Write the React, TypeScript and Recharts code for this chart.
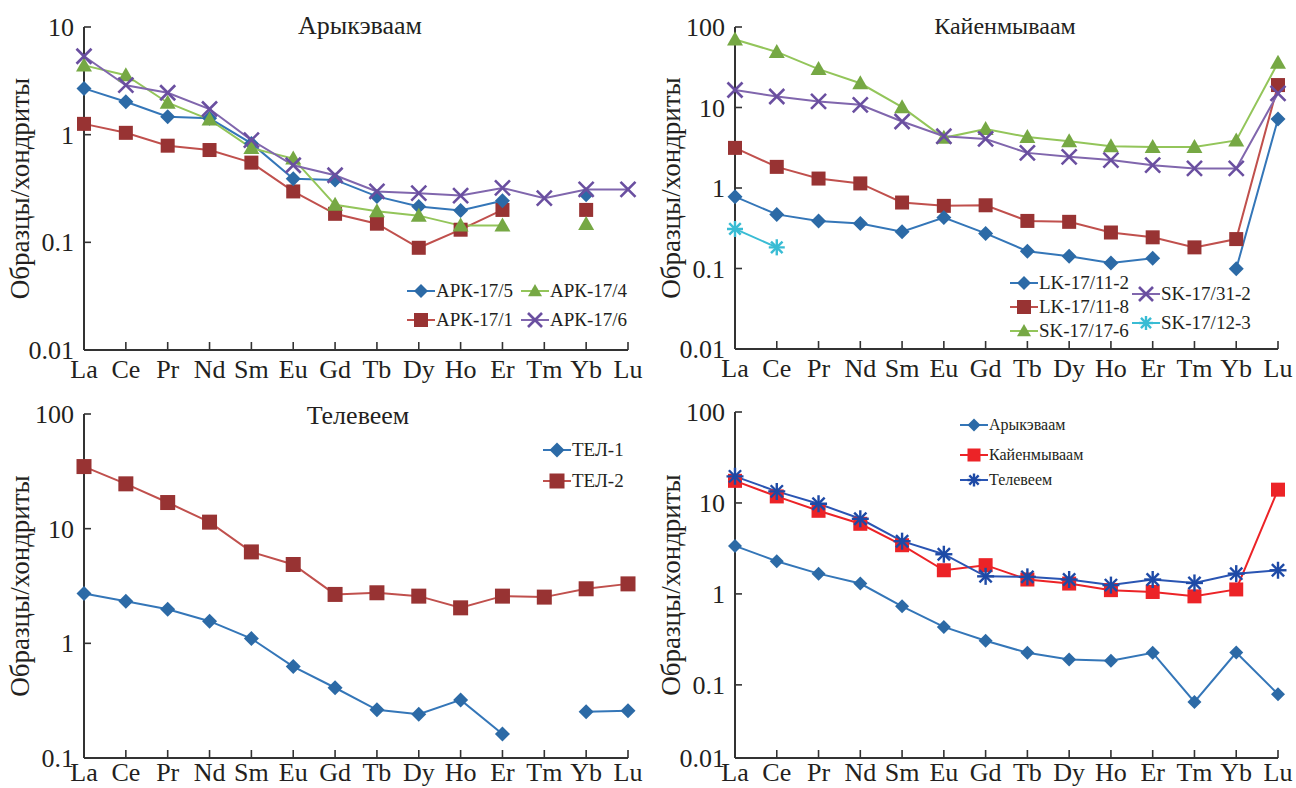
import React from 'react';
import { LineChart, Line, XAxis, YAxis } from 'recharts';

// rare earth elements along the x axis
const elements = ['La', 'Ce', 'Pr', 'Nd', 'Sm', 'Eu', 'Gd', 'Tb', 'Dy', 'Ho', 'Er', 'Tm', 'Yb', 'Lu'];

// Арыкэваам
const apk175 = [2.69, 2.02, 1.47, 1.42, 0.83, 0.39, 0.38, 0.267, 0.215, 0.198, 0.243, null, 0.276, null];
const apk174 = [4.4, 3.57, 1.98, 1.38, 0.75, 0.6, 0.223, 0.194, 0.177, 0.143, 0.143, null, 0.148, null];
const apk171 = [1.26, 1.04, 0.79, 0.72, 0.55, 0.297, 0.184, 0.149, 0.089, 0.131, 0.2, null, 0.2, null];
const apk176 = [5.35, 2.88, 2.45, 1.73, 0.89, 0.52, 0.42, 0.297, 0.286, 0.272, 0.32, 0.257, 0.31, 0.31];

// Кайенмываам
const lk11_2 = [0.78, 0.47, 0.39, 0.363, 0.286, 0.43, 0.273, 0.164, 0.142, 0.117, 0.134, null, 0.099, 7.2];
const lk11_8 = [3.15, 1.83, 1.31, 1.14, 0.66, 0.6, 0.61, 0.39, 0.38, 0.28, 0.244, 0.183, 0.232, 19];
const sk17_6 = [69.8, 49, 30, 20, 10.1, 4.2, 5.4, 4.3, 3.8, 3.3, 3.24, 3.24, 3.9, 36];
const sk31_2 = [16.5, 13.7, 11.9, 10.8, 6.7, 4.39, 4.07, 2.73, 2.44, 2.22, 1.92, 1.75, 1.75, 15];
const sk12_3 = [0.31, 0.183, null, null, null, null, null, null, null, null, null, null, null, null];

// Телевеем
const tel1 = [2.72, 2.33, 1.98, 1.56, 1.1, 0.627, 0.41, 0.263, 0.241, 0.321, 0.162, null, 0.253, 0.258];
const tel2 = [34.8, 24.6, 16.9, 11.4, 6.27, 4.87, 2.67, 2.76, 2.58, 2.04, 2.58, 2.53, 2.99, 3.3];

// averages
const avgArk = [3.37, 2.29, 1.67, 1.3, 0.73, 0.434, 0.305, 0.225, 0.19, 0.184, 0.225, 0.065, 0.227, 0.079];
const avgKay = [17.5, 11.8, 8.2, 5.9, 3.43, 1.82, 2.07, 1.44, 1.3, 1.1, 1.05, 0.94, 1.12, 14];
const avgTel = [19.6, 13.4, 9.8, 6.7, 3.8, 2.73, 1.56, 1.54, 1.44, 1.25, 1.44, 1.32, 1.67, 1.82];

const FONT = 'Liberation Serif';
const AXIS = '#333';

type Shape = 'diamond' | 'square' | 'triangle' | 'x' | 'star';

interface SeriesDef {
  key: string;
  name: string;
  values: (number | null)[];
  color: string;
  line: string;
  shape: Shape;
  size: number;
}

function Marker({ shape, cx, cy, s, color }: { shape: Shape; cx: number; cy: number; s: number; color: string }) {
  if (shape === 'diamond') {
    return <polygon points={`${cx},${cy - s} ${cx + s},${cy} ${cx},${cy + s} ${cx - s},${cy}`} fill={color} />;
  }
  if (shape === 'square') {
    return <rect x={cx - s} y={cy - s} width={2 * s} height={2 * s} fill={color} />;
  }
  if (shape === 'triangle') {
    return <polygon points={`${cx},${cy - s} ${cx + s},${cy + s * 0.75} ${cx - s},${cy + s * 0.75}`} fill={color} />;
  }
  if (shape === 'x') {
    return (
      <g stroke={color} strokeWidth={2.6}>
        <line x1={cx - s} y1={cy - s} x2={cx + s} y2={cy + s} />
        <line x1={cx - s} y1={cy + s} x2={cx + s} y2={cy - s} />
      </g>
    );
  }
  const d = s * 0.72;
  return (
    <g stroke={color} strokeWidth={2.4}>
      <line x1={cx - s} y1={cy} x2={cx + s} y2={cy} />
      <line x1={cx} y1={cy - s} x2={cx} y2={cy + s} />
      <line x1={cx - d} y1={cy - d} x2={cx + d} y2={cy + d} />
      <line x1={cx - d} y1={cy + d} x2={cx + d} y2={cy - d} />
    </g>
  );
}

const makeDot = (sd: SeriesDef) => (props: any) => {
  const { cx, cy, value, index } = props;
  if (value == null || cx == null || cy == null || isNaN(cy)) return <g key={`${sd.key}-${index}`} />;
  return (
    <g key={`${sd.key}-${index}`}>
      <Marker shape={sd.shape} cx={cx} cy={cy} s={sd.size} color={sd.color} />
    </g>
  );
};

const makeXTick = (dy: number) => (props: any) => {
  const { x, y, payload } = props;
  return (
    <g>
      <line x1={x} y1={y} x2={x} y2={y - 8} stroke={AXIS} strokeWidth={1.6} />
      <text x={x} y={y + dy} textAnchor="middle" style={{ fontFamily: FONT }} fontSize={26} fill="#231f20">
        {elements[payload.value]}
      </text>
    </g>
  );
};

const makeYTick = (fmt: (v: number) => string) => (props: any) => {
  const { x, y, payload } = props;
  return (
    <g>
      <line x1={x} y1={y} x2={x + 7} y2={y} stroke={AXIS} strokeWidth={1.6} />
      <text x={x - 10} y={y + 9} textAnchor="end" style={{ fontFamily: FONT }} fontSize={26} fill="#231f20">
        {fmt(payload.value)}
      </text>
    </g>
  );
};

interface LegendEntry {
  sd: SeriesDef;
  x: number;
  y: number;
}

function LegendItem({ e, fontSize, marker }: { e: LegendEntry; fontSize: number; marker: number }) {
  return (
    <div style={{ position: 'absolute', left: e.x, top: e.y - 12, height: 24, display: 'flex', alignItems: 'center' }}>
      <svg width={28} height={24} style={{ overflow: 'visible' }}>
        <line x1={0} y1={12} x2={28} y2={12} stroke={e.sd.line} strokeWidth={2} />
        <Marker shape={e.sd.shape} cx={14} cy={12} s={marker} color={e.sd.color} />
      </svg>
      <span style={{ fontFamily: FONT, fontSize, color: '#231f20', marginLeft: 1, whiteSpace: 'nowrap' }}>{e.sd.name}</span>
    </div>
  );
}

interface PanelProps {
  left: number;
  top: number;
  width: number;
  height: number;
  margin: { top: number; right: number; bottom: number; left: number };
  domain: [number, number];
  ticks: number[];
  fmt: (v: number) => string;
  series: SeriesDef[];
  labelDy: number;
  title?: string;
  titleX?: number;
  titleY?: number;
  titleSize?: number;
  legend: LegendEntry[];
  legendFont: number;
  legendMarker: number;
}

function Panel(p: PanelProps) {
  const data = elements.map((el, i) => {
    const row: Record<string, any> = { i, el };
    p.series.forEach((s) => {
      row[s.key] = s.values[i];
    });
    return row;
  });
  const yTick = makeYTick(p.fmt);
  const xTick = makeXTick(p.labelDy);
  return (
    <div style={{ position: 'absolute', left: p.left, top: p.top, width: p.width, height: p.height }}>
      <LineChart width={p.width} height={p.height} data={data} margin={p.margin}>
        <XAxis
          dataKey="i"
          type="number"
          domain={[0, 13]}
          ticks={elements.map((_, i) => i)}
          interval={0}
          height={30}
          tickSize={0}
          tickMargin={0}
          tick={xTick}
          axisLine={{ stroke: AXIS, strokeWidth: 2 }}
        />
        <YAxis
          scale="log"
          domain={p.domain}
          ticks={p.ticks}
          allowDataOverflow
          width={60}
          tickSize={0}
          tickMargin={0}
          tick={yTick}
          axisLine={{ stroke: AXIS, strokeWidth: 2 }}
          label={(lp: any) => {
            const vb = lp.viewBox;
            const cx = vb.x + 5;
            const cy = vb.y + vb.height / 2;
            return (
              <text
                x={cx}
                y={cy}
                transform={`rotate(-90 ${cx} ${cy})`}
                textAnchor="middle"
                style={{ fontFamily: FONT }}
                fontSize={27}
                fill="#231f20"
              >
                Образцы/хондриты
              </text>
            );
          }}
        />
        {p.series.map((s) => (
          <Line
            key={s.key}
            dataKey={s.key}
            type="linear"
            stroke={s.line}
            strokeWidth={2}
            dot={makeDot(s)}
            activeDot={false}
            connectNulls={false}
            isAnimationActive={false}
          />
        ))}
      </LineChart>
      {p.title && (
        <div
          style={{
            position: 'absolute',
            left: p.titleX! - 150,
            width: 300,
            top: p.titleY,
            textAlign: 'center',
            fontFamily: FONT,
            fontSize: p.titleSize ?? 26,
            lineHeight: '30px',
            color: '#231f20',
          }}
        >
          {p.title}
        </div>
      )}
      {p.legend.map((e) => (
        <LegendItem key={e.sd.key} e={e} fontSize={p.legendFont} marker={p.legendMarker} />
      ))}
    </div>
  );
}

const BLUE = '#2c6aa6';
const BLUE_L = '#3476b8';
const RED = '#983333';
const RED_L = '#c0504d';
const GREEN = '#76a844';
const GREEN_L = '#93c55a';
const PURPLE = '#6a4fa0';
const PURPLE_L = '#8066ad';
const CYAN = '#39bcd4';

const s175: SeriesDef = { key: 'a5', name: 'АРК-17/5', values: apk175, color: BLUE, line: BLUE_L, shape: 'diamond', size: 7.5 };
const s174: SeriesDef = { key: 'a4', name: 'АРК-17/4', values: apk174, color: GREEN, line: GREEN_L, shape: 'triangle', size: 8 };
const s171: SeriesDef = { key: 'a1', name: 'АРК-17/1', values: apk171, color: RED, line: RED_L, shape: 'square', size: 7 };
const s176: SeriesDef = { key: 'a6', name: 'АРК-17/6', values: apk176, color: PURPLE, line: PURPLE_L, shape: 'x', size: 7.5 };

const k112: SeriesDef = { key: 'k2', name: 'LK-17/11-2', values: lk11_2, color: BLUE, line: BLUE_L, shape: 'diamond', size: 7.5 };
const k118: SeriesDef = { key: 'k8', name: 'LK-17/11-8', values: lk11_8, color: RED, line: RED_L, shape: 'square', size: 7 };
const k176: SeriesDef = { key: 'k6', name: 'SK-17/17-6', values: sk17_6, color: GREEN, line: GREEN_L, shape: 'triangle', size: 8 };
const k312: SeriesDef = { key: 'k3', name: 'SK-17/31-2', values: sk31_2, color: PURPLE, line: PURPLE_L, shape: 'x', size: 7.5 };
const k123: SeriesDef = { key: 'k1', name: 'SK-17/12-3', values: sk12_3, color: CYAN, line: CYAN, shape: 'star', size: 8 };

const t1: SeriesDef = { key: 't1', name: 'ТЕЛ-1', values: tel1, color: BLUE, line: BLUE_L, shape: 'diamond', size: 7.5 };
const t2: SeriesDef = { key: 't2', name: 'ТЕЛ-2', values: tel2, color: RED, line: RED_L, shape: 'square', size: 7.5 };

const mA: SeriesDef = { key: 'ma', name: 'Арыкэваам', values: avgArk, color: BLUE, line: BLUE_L, shape: 'diamond', size: 7 };
const mK: SeriesDef = { key: 'mk', name: 'Кайенмываам', values: avgKay, color: '#ec2327', line: '#ec2327', shape: 'square', size: 7 };
const mT: SeriesDef = { key: 'mt', name: 'Телевеем', values: avgTel, color: '#1e4aa6', line: '#2a55b3', shape: 'star', size: 8.5 };

const fmtPlain = (v: number) => String(v);
const fmtBottom = (v: number) => (v < 0.05 ? '0.01' : String(v));

export default function App() {
  return (
    <div style={{ position: 'absolute', left: 0, top: 0, width: 1296, height: 788, background: '#fff', overflow: 'hidden' }}>
      <Panel
        left={0}
        top={0}
        width={648}
        height={390}
        margin={{ top: 27, right: 20, bottom: 10, left: 24 }}
        domain={[0.01, 10]}
        ticks={[0.01, 0.1, 1, 10]}
        fmt={fmtPlain}
        series={[s171, s175, s174, s176]}
        labelDy={28}
        title="Арыкэваам"
        titleX={360}
        titleY={11}
        legend={[
          { sd: s175, x: 407, y: 291 },
          { sd: s174, x: 521, y: 291 },
          { sd: s171, x: 407, y: 320 },
          { sd: s176, x: 521, y: 320 },
        ]}
        legendFont={19}
        legendMarker={7}
      />
      <Panel
        left={648}
        top={0}
        width={648}
        height={390}
        margin={{ top: 27, right: 18, bottom: 11, left: 27 }}
        domain={[0.01, 100]}
        ticks={[0.01, 0.1, 1, 10, 100]}
        fmt={fmtPlain}
        series={[k118, k112, k176, k312, k123]}
        labelDy={28}
        title="Кайенмываам"
        titleX={357}
        titleY={11}
        titleSize={24}
        legend={[
          { sd: k112, x: 362, y: 283 },
          { sd: k118, x: 362, y: 307 },
          { sd: k176, x: 362, y: 331 },
          { sd: k312, x: 484, y: 294 },
          { sd: k123, x: 484, y: 323 },
        ]}
        legendFont={19}
        legendMarker={7}
      />
      <Panel
        left={0}
        top={390}
        width={648}
        height={398}
        margin={{ top: 24, right: 20, bottom: 0, left: 24 }}
        domain={[0.1, 100]}
        ticks={[0.1, 1, 10, 100]}
        fmt={fmtPlain}
        series={[t2, t1]}
        labelDy={23}
        title="Телевеем"
        titleX={358}
        titleY={11}
        legend={[
          { sd: t1, x: 543, y: 60 },
          { sd: t2, x: 543, y: 91 },
        ]}
        legendFont={19}
        legendMarker={7.5}
      />
      <Panel
        left={648}
        top={390}
        width={648}
        height={398}
        margin={{ top: 22, right: 18, bottom: 0, left: 27 }}
        domain={[0.0157, 100]}
        ticks={[0.0157, 0.1, 1, 10, 100]}
        fmt={fmtBottom}
        series={[mA, mK, mT]}
        labelDy={23}
        legend={[
          { sd: mA, x: 312, y: 35 },
          { sd: mK, x: 312, y: 65 },
          { sd: mT, x: 312, y: 90 },
        ]}
        legendFont={16}
        legendMarker={6.5}
      />
    </div>
  );
}
